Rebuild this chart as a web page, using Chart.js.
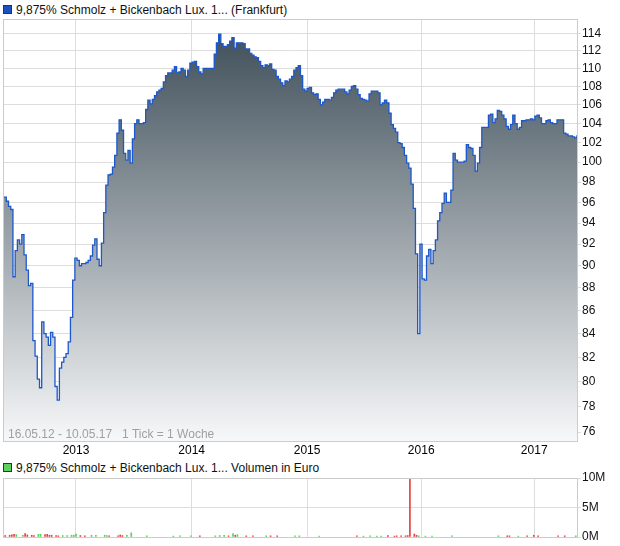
<!DOCTYPE html>
<html>
<head>
<meta charset="utf-8">
<script src="https://cdn.jsdelivr.net/npm/chart.js@4.4.1/dist/chart.umd.min.js"></script>
<style>
body { margin: 0; background: #fff; font-family: "Liberation Sans", Arial, sans-serif; }
#wrap { position: relative; width: 620px; height: 546px; }
canvas { position: absolute; left: 0; }
.leg { position: absolute; left: 3px; font-size: 12px; color: #111; white-space: nowrap; line-height: 14px; }
.box { display: inline-block; width: 7px; height: 7px; border: 1px solid #333; margin-right: 4px; }
.note { position: absolute; left: 8px; top: 427px; font-size: 12px; color: #a0a0a0; white-space: nowrap; }
</style>
</head>
<body>
<div id="wrap">
  <div class="leg" style="top:3px"><span class="box" style="background:#1c4fc0"></span>9,875% Schmolz + Bickenbach Lux. 1... (Frankfurt)</div>
  <canvas id="priceChart" width="620" height="455" style="top:0"></canvas>
  <div class="note">16.05.12 - 10.05.17&nbsp;&nbsp;&nbsp;1 Tick = 1 Woche</div>
  <div class="leg" style="top:461px"><span class="box" style="background:#5fd05f"></span>9,875% Schmolz + Bickenbach Lux. 1... Volumen in Euro</div>
  <canvas id="volumeChart" width="620" height="91" style="top:455px"></canvas>
</div>
<script>
// weekly closing prices, 16.05.12 - 10.05.17 (one value per week)
const priceValues = [
  96.5, 96.5, 96.1, 95.6, 95.3, 89.0, 91.4, 92.4, 92.0, 92.9,
  91.0, 89.6, 88.2, 88.4, 83.4, 82.1, 80.2, 79.5, 85.0, 84.0,
  83.7, 83.0, 84.1, 83.7, 79.6, 78.5, 81.1, 81.6, 82.0, 82.3,
  83.3, 85.4, 88.7, 90.7, 90.5, 90.0, 90.2, 90.2, 90.3, 90.5,
  90.9, 91.9, 92.5, 90.6, 90.0, 92.1, 95.0, 97.7, 98.7, 98.8,
  99.5, 100.7, 103.0, 104.4, 103.3, 100.9, 100.2, 101.2, 99.9, 102.4,
  104.0, 104.4, 104.0, 104.0, 104.1, 105.5, 106.5, 106.1, 106.6, 107.0,
  107.4, 107.6, 107.8, 108.5, 109.2, 109.5, 109.5, 109.8, 110.2, 109.5,
  109.6, 110.0, 109.8, 109.1, 109.8, 110.6, 110.7, 110.8, 110.2, 109.6,
  109.4, 110.0, 110.0, 110.0, 110.0, 110.0, 111.6, 112.9, 113.9, 112.8,
  112.5, 112.5, 112.7, 113.1, 113.5, 112.3, 112.9, 112.9, 112.9, 112.8,
  112.2, 112.2, 111.7, 111.5, 111.3, 111.2, 110.8, 110.3, 110.1, 110.4,
  110.3, 110.5, 109.9, 109.8, 109.1, 108.8, 108.4, 108.1, 108.6, 108.5,
  108.8, 109.1, 109.8, 110.1, 110.3, 109.2, 107.7, 107.5, 107.8, 107.9,
  107.3, 107.1, 107.2, 106.6, 106.0, 106.3, 106.6, 106.6, 106.5, 106.8,
  107.3, 107.6, 107.7, 107.7, 107.7, 107.4, 107.2, 107.6, 108.0, 108.1,
  107.7, 107.1, 106.7, 106.6, 106.5, 106.4, 107.2, 107.5, 107.5, 107.5,
  107.3, 106.0, 106.2, 106.5, 106.2, 105.1, 103.9, 103.5, 103.1, 102.0,
  101.9, 101.5, 100.7, 99.9, 99.4, 97.8, 95.4, 91.1, 84.0, 92.0,
  88.8, 88.7, 90.9, 91.5, 90.2, 91.4, 92.4, 94.2, 95.0, 95.9,
  96.9, 96.0, 96.0, 97.2, 100.9, 100.2, 100.0, 100.0, 100.0, 100.1,
  101.8, 101.5, 101.4, 100.7, 99.1, 99.9, 101.5, 103.6, 103.6, 103.6,
  104.9, 105.0, 104.1, 104.5, 105.4, 105.3, 104.9, 104.5, 103.7, 103.4,
  103.9, 104.9, 104.0, 103.4, 103.6, 104.3, 104.3, 104.4, 104.4, 104.5,
  104.4, 104.8, 104.9, 104.6, 104.0, 104.0, 104.3, 104.4, 104.1, 104.0,
  104.0, 104.4, 104.4, 104.4, 103.0, 102.9, 102.7, 102.7, 102.6, 102.5,
  102.7
];
const priceTicks = [76, 78, 80, 82, 84, 86, 88, 90, 92, 94, 96, 98, 100, 102, 104, 106, 108, 110, 112, 114];
const yearLabels = ['2013', '2014', '2015', '2016', '2017'];
const yearTickWeeks = [33.0, 85.3, 137.5, 189.1, 240.2];

// volume in million euro, week index and up/down flag
const volWeeks = [0, 1, 3, 4, 5, 6, 9, 10, 11, 13, 14, 16, 17, 19, 20, 21, 22, 24, 25,
  27, 29, 31, 32, 33, 35, 37, 40, 42, 46, 47, 48, 52, 53, 54, 56, 58,
  65, 77, 80, 85, 89, 96, 98, 100, 102, 104, 105, 106, 110, 113, 119, 121, 124,
  132, 134, 143, 160, 163, 166, 169, 171, 174, 177, 178, 180, 182, 183, 184, 186, 187,
  188, 191, 194, 203, 224, 228, 229, 233, 237, 240, 242, 251, 254, 259];
const volValues = [0.2, 0.25, 0.3, 0.35, 0.45, 0.4, 0.3, 0.6, 0.35, 0.3, 0.25, 0.45, 0.45, 0.4, 0.45, 0.3, 0.3, 0.25, 0.2,
  0.25, 0.25, 0.3, 0.3, 0.5, 0.25, 0.2, 0.3, 0.3, 0.3, 0.25, 0.2, 0.2, 0.35, 0.25, 0.3, 0.7,
  0.2, 0.15, 0.2, 0.2, 0.2, 0.2, 0.25, 0.3, 0.2, 0.6, 0.3, 0.4, 0.2, 0.2, 0.2, 0.2, 0.2,
  0.2, 0.2, 0.15, 0.2, 0.15, 0.2, 0.15, 0.15, 0.25, 0.15, 0.2, 0.2, 0.2, 0.25, 10.0, 0.5, 0.3,
  0.2, 0.15, 0.15, 0.2, 0.2, 0.2, 0.2, 0.15, 0.2, 0.3, 0.2, 0.2, 0.2, 0.2];
const volUp = [0, 0, 0, 0, 0, 1, 1, 0, 0, 0, 0, 1, 1, 0, 0, 0, 0, 0, 0,
  1, 1, 1, 1, 1, 0, 0, 1, 1, 1, 1, 0, 0, 0, 0, 1, 1,
  1, 1, 1, 1, 0, 1, 1, 1, 0, 1, 0, 1, 0, 0, 1, 0, 0,
  1, 1, 1, 0, 1, 1, 1, 1, 0, 0, 0, 0, 0, 0, 0, 0, 0,
  1, 1, 1, 1, 1, 0, 0, 1, 0, 0, 0, 0, 0, 1];
const volTicks = [0, 5, 10];

const fontFamily = '"Liberation Sans", Arial, sans-serif';

const frame = {
  id: 'frame',
  afterDraw(chart) {
    const a = chart.chartArea;
    const ctx = chart.ctx;
    ctx.save();
    ctx.strokeStyle = '#cccccc';
    ctx.lineWidth = 1;
    ctx.strokeRect(a.left + 0.5, a.top + 0.5, a.right - a.left - 1, a.bottom - a.top);
    ctx.restore();
  }
};

new Chart(document.querySelector('#priceChart'), {
  type: 'line',
  data: {
    datasets: [{
      data: priceValues.map((v, i) => ({ x: i, y: v })),
      borderColor: '#1c58cc',
      borderWidth: 1.3,
      pointRadius: 0,
      stepped: 'middle',
      fill: 'start',
      backgroundColor(ctx) {
        const a = ctx.chart.chartArea;
        if (!a) return '#8a96a0';
        const g = ctx.chart.ctx.createLinearGradient(0, a.top, 0, a.bottom);
        g.addColorStop(0, '#3a4a55');
        g.addColorStop(1, '#f7f8f9');
        return g;
      }
    }]
  },
  options: {
    responsive: false,
    animation: false,
    layout: { padding: { left: 3, top: 19, right: 0, bottom: 0 } },
    plugins: { legend: { display: false }, tooltip: { enabled: false } },
    scales: {
      x: {
        type: 'linear', min: 0, max: 260,
        afterBuildTicks: s => { s.ticks = yearTickWeeks.map(v => ({ value: v })); },
        afterFit: s => { s.height = 14; },
        ticks: { autoSkip: false, maxRotation: 0, padding: 2, color: '#000',
          font: { size: 12, family: fontFamily },
          callback: (v, i) => yearLabels[i] },
        grid: { color: '#dddddd', drawTicks: false },
        border: { display: false }
      },
      y: {
        type: 'logarithmic', position: 'right', min: 75.31, max: 115.67,
        afterBuildTicks: s => { s.ticks = priceTicks.map(v => ({ value: v })); },
        afterFit: s => { s.width = 42; },
        ticks: { autoSkip: false, padding: 1, color: '#111',
          font: { size: 12, family: fontFamily },
          callback: v => String(v) },
        grid: { color: '#dddddd', tickLength: 3 },
        border: { display: false }
      }
    }
  },
  plugins: [frame]
});

new Chart(document.querySelector('#volumeChart'), {
  type: 'bar',
  data: {
    datasets: [{
      data: volWeeks.map((w, i) => ({ x: w, y: volValues[i] })),
      backgroundColor: volUp.map(u => u ? '#5cd05c' : '#e04444'),
      barThickness: 1,
      grouped: false
    }]
  },
  options: {
    responsive: false,
    animation: false,
    layout: { padding: { left: 3, top: 23, right: 0, bottom: 0 } },
    plugins: { legend: { display: false }, tooltip: { enabled: false } },
    scales: {
      x: {
        type: 'linear', min: 0, max: 260, offset: false,
        afterBuildTicks: s => { s.ticks = yearTickWeeks.map(v => ({ value: v })); },
        afterFit: s => { s.height = 9; },
        ticks: { display: false },
        grid: { color: '#dddddd', drawTicks: false, offset: false },
        border: { display: false }
      },
      y: {
        position: 'right', min: 0, max: 10,
        afterBuildTicks: s => { s.ticks = volTicks.map(v => ({ value: v })); },
        afterFit: s => { s.width = 42; },
        ticks: { autoSkip: false, padding: 1, color: '#111',
          font: { size: 12, family: fontFamily },
          callback: v => v + 'M' },
        grid: { color: '#dddddd', tickLength: 3 },
        border: { display: false }
      }
    }
  },
  plugins: [frame]
});
</script>
</body>
</html>
